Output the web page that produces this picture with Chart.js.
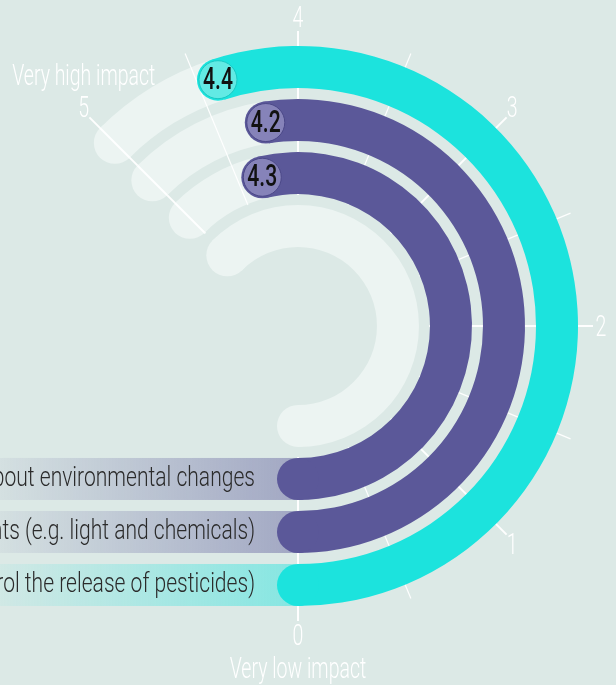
<!DOCTYPE html>
<html lang="en">
<head>
<meta charset="utf-8">
<title>Impact gauge</title>
<style>
  html, body { margin: 0; padding: 0; background: #dce9e6; }
  canvas { display: block; }
</style>
</head>
<body>
<canvas id="gauge" width="616" height="685"></canvas>
<script src="https://cdn.jsdelivr.net/npm/chart.js@4/dist/chart.umd.min.js"></script>
<script>
// rings listed from the outside in
var CATEGORIES = [
  'Regulating pesticide use (control the release of pesticides)',
  'Reducing other pollutants (e.g. light and chemicals)',
  'Informing farmers about environmental changes'
];
var VALUES = [4.4, 4.2, 4.3];
var COLORS = ['#1ce3dd', '#5b5899', '#5b5899'];
var CIRCLE_FILL = ['#62eae4', '#8683b9', '#8683b9'];
var CIRCLE_LINE = ['#19c9c3', '#4b4888', '#4b4888'];
var TICKS = [0, 1, 2, 3, 4, 5];
var SCALE_MAX = 5;
var LOW_LABEL = 'Very low impact';
var HIGH_LABEL = 'Very high impact';

var TRACK = '#ecf4f2';
var RING_W = 42, GAP_W = 11;

var datasets = [];
VALUES.forEach(function(v, i){
  datasets.push({data: [SCALE_MAX - v, v], backgroundColor: [TRACK, COLORS[i]],
    weight: RING_W, rotation: 180 - 45 * SCALE_MAX, circumference: 45 * SCALE_MAX, borderWidth: 0});
  datasets.push({data: [1], backgroundColor: ['rgba(0,0,0,0)'], weight: GAP_W,
    rotation: 0, circumference: 360, borderWidth: 0});
});
// innermost empty track
datasets.push({data: [SCALE_MAX], backgroundColor: [TRACK], weight: RING_W,
  rotation: 180 - 45 * SCALE_MAX, circumference: 45 * SCALE_MAX, borderWidth: 0});

// sx squeezes the text horizontally to fake a condensed face
function txt(ctx, s, x, y, size, weight, color, align, sx){
  ctx.save();
  ctx.translate(x, y);
  ctx.scale(sx, 1);
  ctx.font = weight + ' ' + size + 'px Roboto';
  ctx.fillStyle = color;
  ctx.textAlign = align;
  ctx.textBaseline = 'middle';
  ctx.fillText(s, 0, 0);
  ctx.restore();
}
function rgba(hex, a){
  var n = parseInt(hex.slice(1), 16);
  return 'rgba(' + (n >> 16) + ',' + ((n >> 8) & 255) + ',' + (n & 255) + ',' + a + ')';
}
function dot(ctx, x, y, r, fill){
  ctx.beginPath();
  ctx.arc(x, y, r, 0, Math.PI * 2);
  ctx.fillStyle = fill;
  ctx.fill();
}

var gaugeDeco = {
  id: 'gaugeDeco',
  scale: function(chart){
    var el = chart.getDatasetMeta(chart.data.datasets.length - 1).data[0];
    return function(t){ return el.endAngle - (el.endAngle - el.startAngle) * t / SCALE_MAX; };
  },
  radial: function(ctx, x, y, a, r0, r1, lw){
    ctx.beginPath();
    ctx.moveTo(x + r0 * Math.cos(a), y + r0 * Math.sin(a));
    ctx.lineTo(x + r1 * Math.cos(a), y + r1 * Math.sin(a));
    ctx.lineWidth = lw;
    ctx.strokeStyle = 'rgba(255,255,255,0.95)';
    ctx.stroke();
  },
  beforeDatasetsDraw: function(chart){
    var ctx = chart.ctx, ang = this.scale(chart);
    var outer = chart.getDatasetMeta(0).data[0];
    var inner = chart.getDatasetMeta(2 * (VALUES.length - 1)).data[0];
    var cx = outer.x, cy = outer.y;
    for (var t = 0; t <= SCALE_MAX; t += 0.5) {
      this.radial(ctx, cx, cy, ang(t), inner.innerRadius - 1, outer.outerRadius + 15, t % 1 === 0 ? 2 : 1.2);
    }
    // label bands running out to the left
    VALUES.forEach(function(v, i){
      var el = chart.getDatasetMeta(2 * i).data[1];
      var g = ctx.createLinearGradient(0, 0, cx, 0);
      g.addColorStop(0, rgba(COLORS[i], 0.06));
      g.addColorStop(1, rgba(COLORS[i], 0.45));
      ctx.fillStyle = g;
      ctx.fillRect(0, cy + el.innerRadius, cx, el.outerRadius - el.innerRadius);
    });
  },
  afterDatasetsDraw: function(chart){
    var ctx = chart.ctx, ang = this.scale(chart), self = this;
    var outer = chart.getDatasetMeta(0).data[0];
    var cx = outer.x, cy = outer.y;

    VALUES.forEach(function(v, i){
      var tr = chart.getDatasetMeta(2 * i).data[0];
      var mid = (tr.innerRadius + tr.outerRadius) / 2, hw = (tr.outerRadius - tr.innerRadius) / 2;
      dot(ctx, cx + mid * Math.cos(tr.startAngle), cy + mid * Math.sin(tr.startAngle), hw, TRACK);
      for (var t = 0.5; t <= SCALE_MAX; t += 0.5) {
        if (t > v) self.radial(ctx, cx, cy, ang(t), tr.innerRadius, tr.outerRadius, t % 1 === 0 ? 2 : 1.2);
      }
    });
    var last = chart.getDatasetMeta(chart.data.datasets.length - 1).data[0];
    var lm = (last.innerRadius + last.outerRadius) / 2, lh = (last.outerRadius - last.innerRadius) / 2;
    dot(ctx, cx + lm * Math.cos(last.startAngle), cy + lm * Math.sin(last.startAngle), lh, TRACK);
    dot(ctx, cx + lm * Math.cos(last.endAngle), cy + lm * Math.sin(last.endAngle), lh, TRACK);

    VALUES.forEach(function(v, i){
      var el = chart.getDatasetMeta(2 * i).data[1];
      var mid = (el.innerRadius + el.outerRadius) / 2, hw = (el.outerRadius - el.innerRadius) / 2;
      var px = cx + mid * Math.cos(el.startAngle), py = cy + mid * Math.sin(el.startAngle);
      dot(ctx, px, py, hw, COLORS[i]);
      dot(ctx, cx + mid * Math.cos(el.endAngle), cy + mid * Math.sin(el.endAngle), hw, COLORS[i]);
      ctx.beginPath();
      ctx.arc(px, py, hw - 2, 0, Math.PI * 2);
      ctx.fillStyle = CIRCLE_FILL[i];
      ctx.fill();
      ctx.lineWidth = 1;
      ctx.strokeStyle = CIRCLE_LINE[i];
      ctx.stroke();
      txt(ctx, v.toFixed(1), px, py + 1, 32, 500, '#111', 'center', 0.66);
      txt(ctx, CATEGORIES[i], cx - 43, cy + mid, 27, 300, '#2b2b2b', 'right', 0.78);
    });

    var rx = outer.outerRadius + 23, ry = outer.outerRadius + 29;
    TICKS.forEach(function(t){
      var a = ang(t);
      txt(ctx, String(t), cx + rx * Math.cos(a), cy + ry * Math.sin(a) + 2, 30, 300, '#fff', 'center', 0.65);
    });
    var a5 = ang(SCALE_MAX), a0 = ang(0);
    txt(ctx, HIGH_LABEL, cx + rx * Math.cos(a5), cy + ry * Math.sin(a5) - 30, 30, 300, '#fff', 'center', 0.65);
    txt(ctx, LOW_LABEL, cx + rx * Math.cos(a0), cy + ry * Math.sin(a0) + 35, 30, 300, '#fff', 'center', 0.65);
  }
};

var chart = new Chart(document.getElementById('gauge').getContext('2d'), {
  type: 'doughnut',
  data: { labels: ['rest', 'value'], datasets: datasets },
  options: {
    responsive: false,
    animation: false,
    events: [],
    radius: 280,
    cutout: '28.2%',
    layout: { padding: { left: 0, right: 20, top: 0, bottom: 33 } },
    plugins: { legend: { display: false }, tooltip: { enabled: false } }
  },
  plugins: [gaugeDeco]
});
</script>
</body>
</html>
